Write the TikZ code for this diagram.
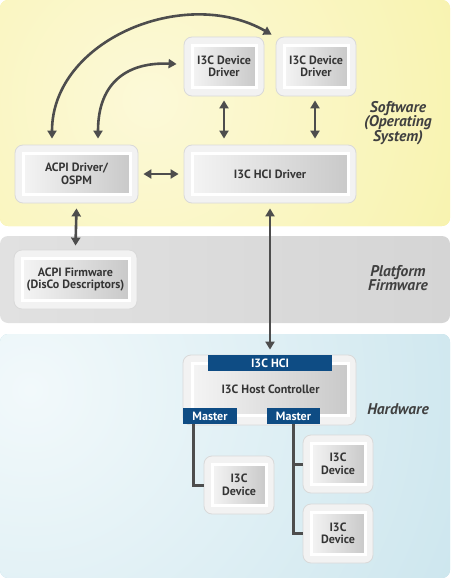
\documentclass[tikz,border=0pt]{standalone}
\usepackage{fontspec}
\setmainfont{PT Sans}
\usetikzlibrary{arrows.meta,calc}
\definecolor{yelin}{HTML}{FCF9D8}
\definecolor{yelout}{HTML}{F6F09A}
\definecolor{greyL}{HTML}{E1E1E1}
\definecolor{greyM}{HTML}{F7F7F7}
\definecolor{greyR}{HTML}{D5D5D5}
\definecolor{bluein}{HTML}{F2F9FB}
\definecolor{blueout}{HTML}{B9DCE7}
\definecolor{edgecol}{HTML}{D9D9D9}
\definecolor{ringcol}{HTML}{F2F2F2}
\definecolor{gradL}{HTML}{F4F4F4}
\definecolor{gradR}{HTML}{C9C9C9}
\definecolor{txtcol}{HTML}{353535}
\definecolor{arrcol}{HTML}{4D4D4D}
\definecolor{tabblue}{HTML}{0E4C84}
\definecolor{labcol}{HTML}{404040}
\newcommand{\boxfont}{\bfseries\fontsize{12}{12.5}\selectfont}
\begin{document}
\begin{tikzpicture}[x=1pt,y=-1pt,
  outerbox/.style={draw=edgecol, fill=ringcol, rounded corners=8pt, line width=0.8pt, inner sep=0pt},
  innerbox/.style={draw=white, line width=3pt, left color=gradL, right color=gradR, inner sep=0pt, align=center, font=\boxfont, text=txtcol},
  tabbox/.style={fill=tabblue, text=white, font=\boxfont, inner sep=0pt, minimum height=16pt},
  arr/.style={draw=arrcol, line width=2.6pt, {Triangle[length=8pt,width=9pt]}-{Triangle[length=8pt,width=9pt]}},
  bus/.style={draw=arrcol, line width=3pt},
  bandlabel/.style={font=\bfseries\itshape\fontsize{15.5}{14.5}\selectfont, text=labcol, align=center}]
\useasboundingbox (0,0) rectangle (450,578);
% bands
\fill[yelout, rounded corners=8pt] (0,0) rectangle (450,226);
\begin{scope}
  \clip[rounded corners=8pt] (0,0) rectangle (450,226);
  \shade[inner color=yelin, outer color=yelout] (150,100) circle (500);
\end{scope}
\shade[rounded corners=8pt, left color=greyL, middle color=greyM, right color=greyR] (0,236) rectangle (450,323);
\fill[blueout, rounded corners=8pt] (0,334) rectangle (450,578);
\begin{scope}
  \clip[rounded corners=8pt] (0,334) rectangle (450,578);
  \shade[inner color=bluein, outer color=blueout] (30,390) circle (720);
\end{scope}
% band labels
\node[bandlabel] (lsw) at (398,123) {Software\\(Operating\\System)};
\node[bandlabel] (lpf) at (398,278) {Platform\\Firmware};
\node[bandlabel] (lhw) at (398,409) {Hardware};
% boxes
\node[outerbox, minimum width=80pt, minimum height=59pt] (dd1o) at (224,66.5) {};
\node[innerbox, minimum width=64pt, minimum height=42pt] (dd1) at (224,66.5) {I3C Device\\Driver};
\node[outerbox, minimum width=80pt, minimum height=59pt] (dd2o) at (316,66.5) {};
\node[innerbox, minimum width=64pt, minimum height=42pt] (dd2) at (316,66.5) {I3C Device\\Driver};
\node[outerbox, minimum width=123pt, minimum height=58pt] (acpio) at (76.5,174) {};
\node[innerbox, minimum width=107pt, minimum height=41pt] (acpi) at (76.5,174) {ACPI Driver/\\OSPM};
\node[outerbox, minimum width=172pt, minimum height=58pt] (hcio) at (270,174) {};
\node[innerbox, minimum width=156pt, minimum height=41pt] (hci) at (270,174) {I3C HCI Driver};
\node[outerbox, minimum width=123pt, minimum height=59pt] (fwo) at (75.5,279.5) {};
\node[innerbox, minimum width=107pt, minimum height=42pt] (fw) at (75.5,279.5) {ACPI Firmware\\(DisCo Descriptors)};
\node[outerbox, minimum width=173pt, minimum height=70pt] (hco) at (269.5,390) {};
\node[innerbox, minimum width=156pt, minimum height=52pt] (hc) at (270.5,389.5) {I3C Host Controller};
\node[tabbox, minimum width=124pt] (thci) at (270,363) {I3C HCI};
\node[tabbox, minimum width=54pt] (ml) at (210,416) {Master};
\node[tabbox, minimum width=53pt] (mr) at (293.5,416) {Master};
\node[outerbox, minimum width=70pt, minimum height=58pt] (dev1o) at (239,485) {};
\node[innerbox, minimum width=54pt, minimum height=41pt] (dev1) at (239,485) {I3C\\Device};
\node[outerbox, minimum width=70pt, minimum height=58pt] (dev2o) at (338,464) {};
\node[innerbox, minimum width=54pt, minimum height=41pt] (dev2) at (338,464) {I3C\\Device};
\node[outerbox, minimum width=70pt, minimum height=59pt] (dev3o) at (338,533.5) {};
\node[innerbox, minimum width=54pt, minimum height=42pt] (dev3) at (338,533.5) {I3C\\Device};
% bus lines
\draw[bus] ([xshift=-17pt]ml.south) |- (dev1o.west);
\draw[bus] (mr.south) |- (dev3o.west);
\draw[bus] (mr.south |- dev2o.west) -- (dev2o.west);
% arrows
\draw[arr] ([xshift=-24.5pt,yshift=6pt]acpio.north) .. controls (52,40) and (185,-15) .. ([xshift=-4pt,yshift=2pt]dd2o.north west);
\draw[arr] ([xshift=21.5pt,yshift=6pt]acpio.north) .. controls (98,80) and (130,62) .. ([xshift=-7pt,yshift=2.5pt]dd1o.west);
\draw[arr] ([yshift=-4pt]dd1o.south) -- ([yshift=6pt]hcio.north -| dd1o.south);
\draw[arr] ([xshift=-1pt,yshift=-4pt]dd2o.south) -- ([xshift=-1pt,yshift=6pt]hcio.north -| dd2o.south);
\draw[arr] ([xshift=5pt]acpio.east) -- ([xshift=-5pt]hcio.west);
\draw[arr] ([yshift=-5pt]acpio.south) -- ([yshift=4pt]fwo.north);
\draw[arr] ([yshift=-5pt]hcio.south) -- ([yshift=5pt]hco.north -| hcio.south);
\end{tikzpicture}
\end{document}
